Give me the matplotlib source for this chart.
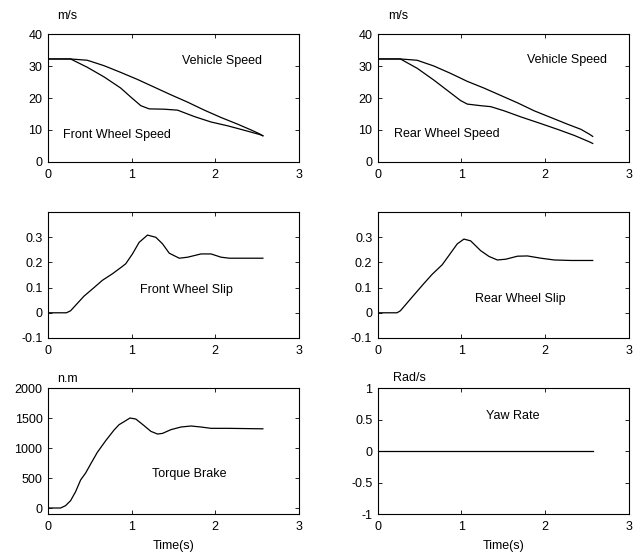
import matplotlib
matplotlib.use("Agg")
import matplotlib.pyplot as plt

plt.rcParams['font.family'] = ['Liberation Sans', 'DejaVu Sans']
plt.rcParams['font.size'] = 9

# ---- data ----
t_vf = [0, 0.27, 0.47, 0.67, 0.87, 1.07, 1.27, 1.47, 1.67, 1.87, 2.07, 2.27, 2.43, 2.53, 2.57]
vehicle_speed_f = [32.2, 32.2, 31.8, 30.1, 28.0, 25.8, 23.4, 21.0, 18.7, 16.2, 13.9, 11.8, 10.0, 8.8, 8.2]

t_fw = [0, 0.27, 0.47, 0.67, 0.87, 0.99, 1.11, 1.21, 1.39, 1.55, 1.75, 1.95, 2.15, 2.35, 2.53, 2.57]
front_wheel_speed = [32.2, 32.2, 29.6, 26.6, 23.1, 20.3, 17.6, 16.6, 16.5, 16.2, 14.2, 12.5,
                     11.3, 9.9, 8.6, 8.2]

t_vr = [0, 0.27, 0.47, 0.67, 0.87, 1.07, 1.27, 1.47, 1.67, 1.87, 2.07, 2.27, 2.43, 2.53, 2.57]
vehicle_speed_r = [32.2, 32.2, 31.8, 30.0, 27.7, 25.2, 23.1, 20.8, 18.5, 16.0, 13.9, 11.8, 10.2, 8.7, 8.0]

t_rw = [0, 0.27, 0.47, 0.67, 0.87, 0.99, 1.07, 1.23, 1.35, 1.51, 1.71, 1.95, 2.15, 2.35, 2.53, 2.57]
rear_wheel_speed = [32.2, 32.2, 29.3, 25.6, 21.6, 19.2, 18.1, 17.6, 17.3, 16.0, 14.1, 12.0,
                    10.2, 8.3, 6.3, 5.8]

t_fs = [0, 0.22, 0.27, 0.35, 0.43, 0.55, 0.65, 0.77, 0.88, 0.93, 1.01, 1.09, 1.19, 1.29,
        1.37, 1.45, 1.57, 1.67, 1.83, 1.95, 2.07, 2.17, 2.57]
front_slip = [0, 0, 0.008, 0.037, 0.066, 0.10, 0.129, 0.155, 0.182, 0.195, 0.234, 0.28,
              0.309, 0.30, 0.274, 0.237, 0.217, 0.221, 0.234, 0.234, 0.221, 0.217, 0.217]

t_rs = [0, 0.23, 0.27, 0.35, 0.43, 0.55, 0.65, 0.77, 0.87, 0.95, 1.03, 1.11, 1.23, 1.33,
        1.43, 1.53, 1.67, 1.79, 1.95, 2.11, 2.31, 2.57]
rear_slip = [0, 0, 0.008, 0.039, 0.07, 0.116, 0.153, 0.191, 0.237, 0.274, 0.293, 0.286,
             0.247, 0.224, 0.21, 0.213, 0.225, 0.226, 0.217, 0.21, 0.208, 0.208]

t_tq = [0, 0.15, 0.21, 0.27, 0.33, 0.39, 0.45, 0.51, 0.59, 0.69, 0.79, 0.85, 0.91, 0.98,
        1.05, 1.15, 1.23, 1.31, 1.37, 1.47, 1.59, 1.71, 1.83, 1.95, 2.15, 2.57]
torque_brake = [0, 0, 39, 122, 272, 467, 583, 733, 928, 1122, 1300, 1389, 1439, 1500,
                1483, 1372, 1278, 1233, 1244, 1306, 1350, 1367, 1350, 1328, 1328, 1320]

t_yaw = [0, 2.57]
yaw_rate = [0, 0]

xticks = [0, 1, 2, 3]

fig = plt.figure(figsize=(6.35, 5.54), dpi=100)

W = 0.395
lefts = [0.0756, 0.595]
rows = [(0.7076, 0.231), (0.390, 0.227), (0.0722, 0.2274)]

def make_ax(left, row):
    b, h = row
    ax = fig.add_axes([left, b, W, h])
    ax.tick_params(direction='in', top=True, right=True, length=3, width=0.6,
                   labelsize=9)
    ax.tick_params(axis='x', pad=5)
    ax.tick_params(axis='y', pad=4)
    for s in ax.spines.values():
        s.set_linewidth(0.8)
    ax.set_xlim(0, 3)
    ax.set_xticks(xticks)
    return ax

lw = 0.9
c = 'black'

# Row 1
ax = make_ax(lefts[0], rows[0])
ax.plot(t_vf, vehicle_speed_f, color=c, lw=lw)
ax.plot(t_fw, front_wheel_speed, color=c, lw=lw)
ax.set_ylim(0, 40)
ax.set_yticks([0, 10, 20, 30, 40])
ax.text(1.6, 31.6, 'Vehicle Speed', va='center', ha='left')
ax.text(0.18, 8.3, 'Front Wheel Speed', va='center', ha='left')
ax.text(0.035, 1.14, 'm/s', transform=ax.transAxes, va='center', ha='left')

ax = make_ax(lefts[1], rows[0])
ax.plot(t_vr, vehicle_speed_r, color=c, lw=lw)
ax.plot(t_rw, rear_wheel_speed, color=c, lw=lw)
ax.set_ylim(0, 40)
ax.set_yticks([0, 10, 20, 30, 40])
ax.text(1.79, 31.8, 'Vehicle Speed', va='center', ha='left')
ax.text(0.19, 8.9, 'Rear Wheel Speed', va='center', ha='left')
ax.text(0.04, 1.14, 'm/s', transform=ax.transAxes, va='center', ha='left')

# Row 2
ax = make_ax(lefts[0], rows[1])
ax.plot(t_fs, front_slip, color=c, lw=lw)
ax.set_ylim(-0.1, 0.4)
ax.set_yticks([-0.1, 0, 0.1, 0.2, 0.3])
ax.set_yticklabels(['-0.1', '0', '0.1', '0.2', '0.3'])
ax.text(1.1, 0.089, 'Front Wheel Slip', va='center', ha='left')

ax = make_ax(lefts[1], rows[1])
ax.plot(t_rs, rear_slip, color=c, lw=lw)
ax.set_ylim(-0.1, 0.4)
ax.set_yticks([-0.1, 0, 0.1, 0.2, 0.3])
ax.set_yticklabels(['-0.1', '0', '0.1', '0.2', '0.3'])
ax.text(1.16, 0.054, 'Rear Wheel Slip', va='center', ha='left')

# Row 3
ax = make_ax(lefts[0], rows[2])
ax.plot(t_tq, torque_brake, color=c, lw=lw)
ax.set_ylim(-100, 2000)
ax.set_yticks([0, 500, 1000, 1500, 2000])
ax.text(1.24, 570, 'Torque Brake', va='center', ha='left')
ax.text(0.035, 1.07, 'n.m', transform=ax.transAxes, va='center', ha='left')
ax.set_xlabel('Time(s)', fontsize=9, labelpad=5)

ax = make_ax(lefts[1], rows[2])
ax.plot(t_yaw, yaw_rate, color=c, lw=lw)
ax.set_ylim(-1, 1)
ax.set_yticks([-1, -0.5, 0, 0.5, 1])
ax.set_yticklabels(['-1', '-0.5', '0', '0.5', '1'])
ax.text(1.29, 0.55, 'Yaw Rate', va='center', ha='left')
ax.text(0.06, 1.08, 'Rad/s', transform=ax.transAxes, va='center', ha='left')
ax.set_xlabel('Time(s)', fontsize=9, labelpad=5)

fig.savefig('out.png', dpi=100)
